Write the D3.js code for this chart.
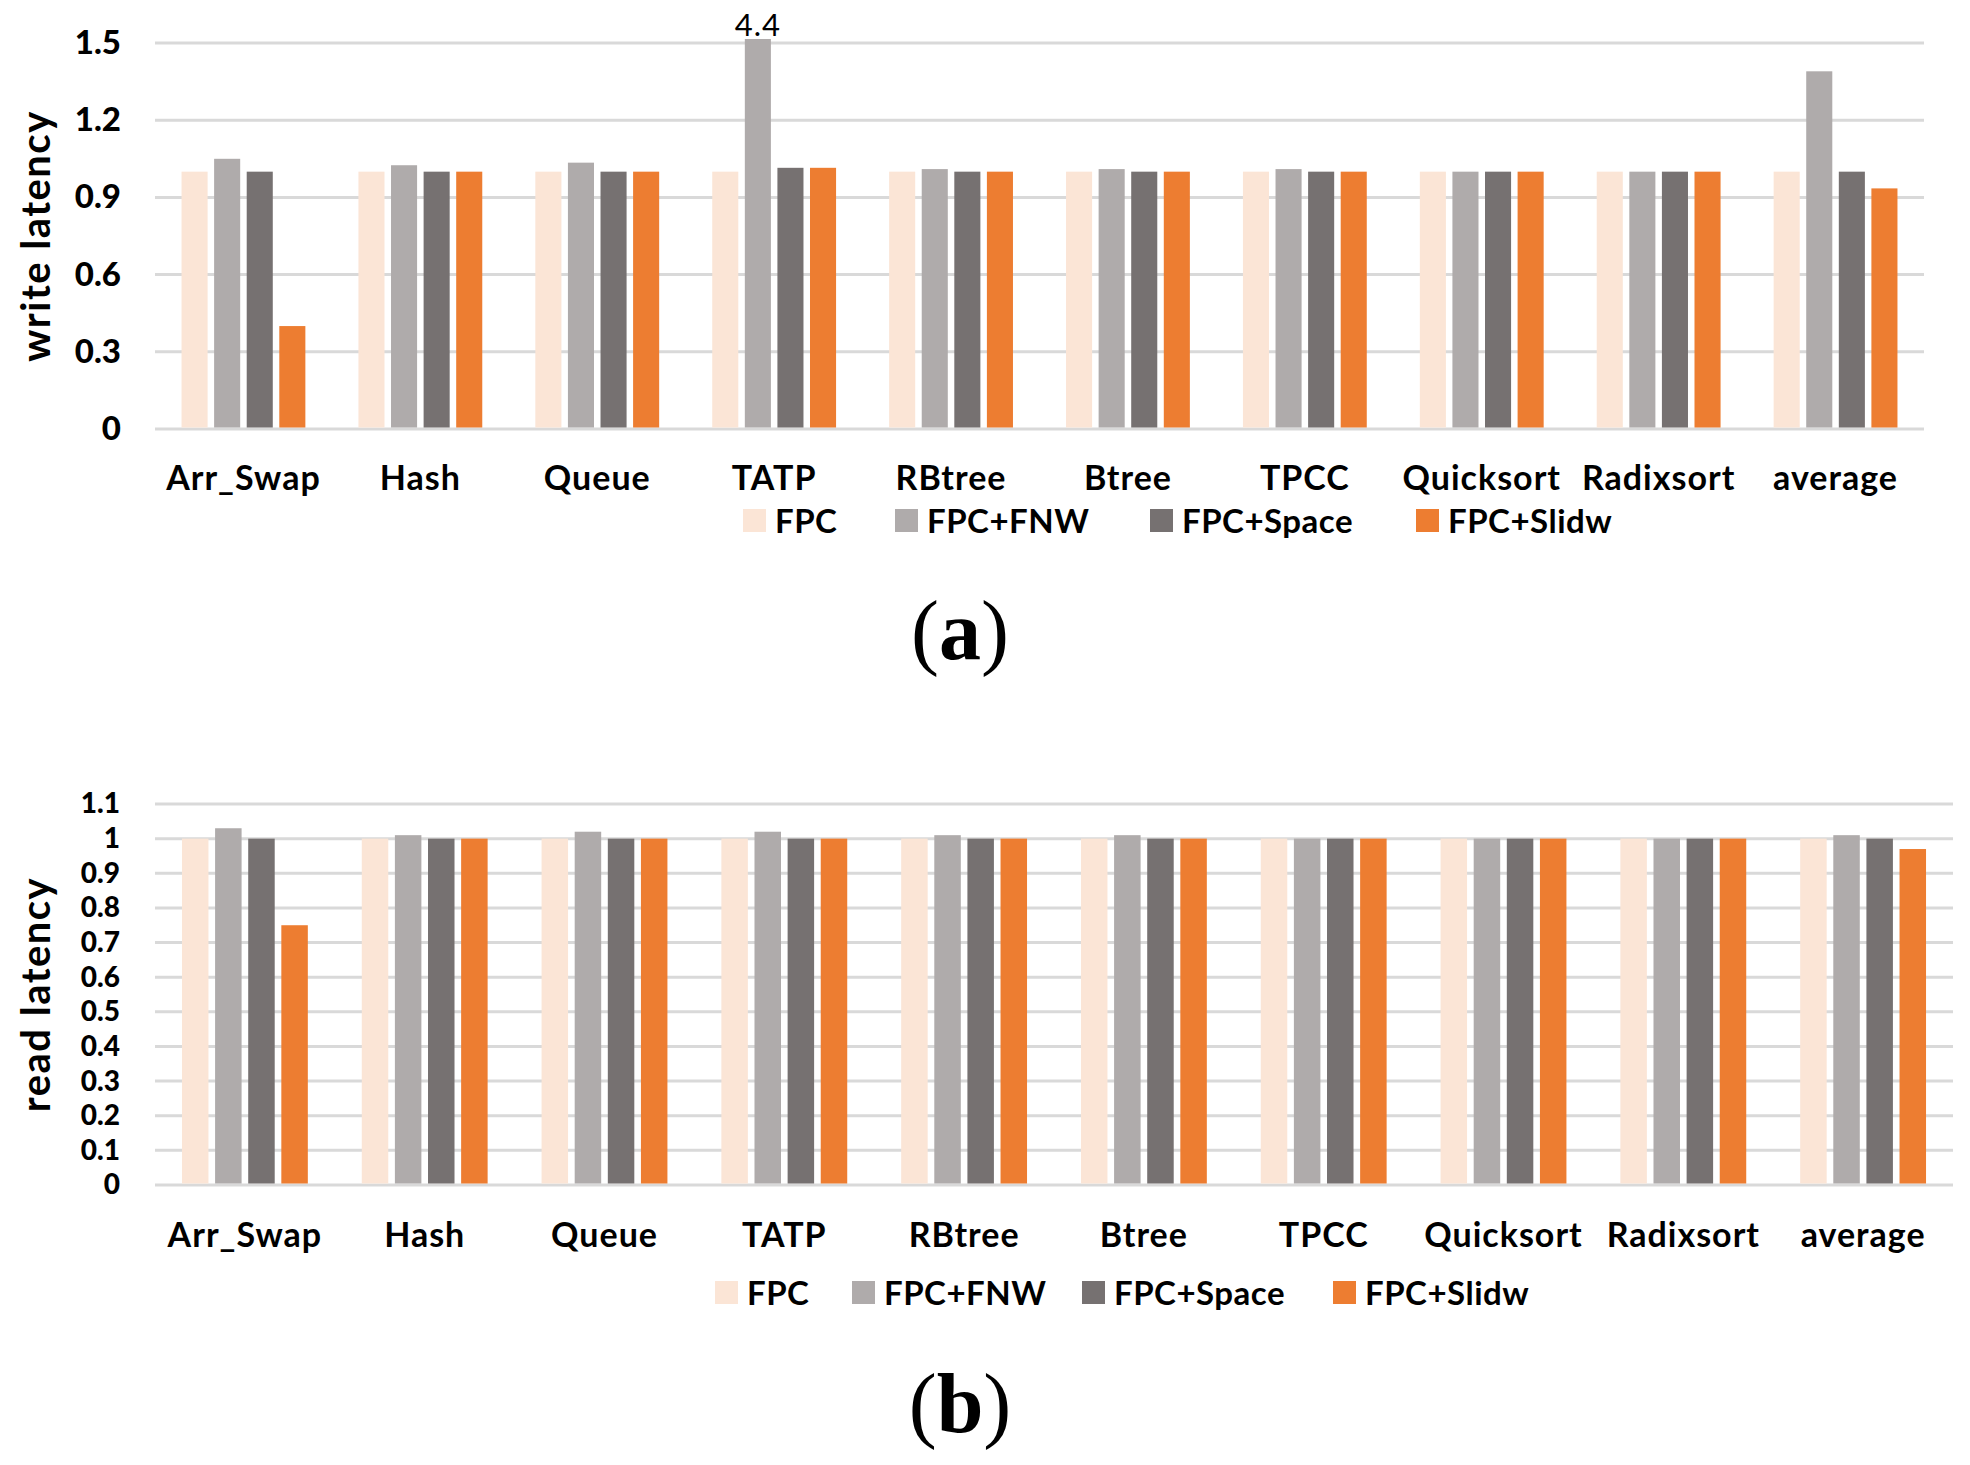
<!DOCTYPE html>
<html>
<head>
<meta charset="utf-8">
<script src="https://cdn.jsdelivr.net/npm/d3@7"></script>
<style>
  body { margin: 0; background: #fff; }
  svg text { font-family: Lato, "Open Sans", sans-serif; }
</style>
</head>
<body>
<div id="chart"></div>
<script>
// Categories and series
var categories = ["Arr_Swap", "Hash", "Queue", "TATP", "RBtree", "Btree", "TPCC", "Quicksort", "Radixsort", "average"];
var seriesNames = ["FPC", "FPC+FNW", "FPC+Space", "FPC+Slidw"];
var seriesColors = ["#FBE5D6", "#AFABAB", "#767171", "#ED7D31"];

// (a) write latency
var writeFPC   = [1.0, 1.0, 1.0, 1.0, 1.0, 1.0, 1.0, 1.0, 1.0, 1.0];
var writeFNW   = [1.05, 1.025, 1.035, 4.4, 1.01, 1.01, 1.01, 1.0, 1.0, 1.39];
var writeSpace = [1.0, 1.0, 1.0, 1.015, 1.0, 1.0, 1.0, 1.0, 1.0, 1.0];
var writeSlidw = [0.40, 1.0, 1.0, 1.015, 1.0, 1.0, 1.0, 1.0, 1.0, 0.935];
var writeTicks = [0, 0.3, 0.6, 0.9, 1.2, 1.5];

// (b) read latency
var readFPC   = [1.0, 1.0, 1.0, 1.0, 1.0, 1.0, 1.0, 1.0, 1.0, 1.0];
var readFNW   = [1.03, 1.01, 1.02, 1.02, 1.01, 1.01, 1.0, 1.0, 1.0, 1.01];
var readSpace = [1.0, 1.0, 1.0, 1.0, 1.0, 1.0, 1.0, 1.0, 1.0, 1.0];
var readSlidw = [0.75, 1.0, 1.0, 1.0, 1.0, 1.0, 1.0, 1.0, 1.0, 0.97];
var readTicks = [0, 0.1, 0.2, 0.3, 0.4, 0.5, 0.6, 0.7, 0.8, 0.9, 1, 1.1];

var width = 1970, height = 1465;
var svg = d3.select("#chart").append("svg")
    .attr("width", width)
    .attr("height", height);

function drawPanel(opt) {
    var g = svg.append("g");
    var series = opt.values;
    var yMax = opt.ticks[opt.ticks.length - 1];

    var x = d3.scaleBand().domain(categories)
        .range([opt.left, opt.right])
        .paddingInner(0.3).paddingOuter(0.15);
    var xs = d3.scaleBand().domain(d3.range(series.length))
        .range([0, x.bandwidth()])
        .paddingInner(0.2);
    var y = d3.scaleLinear().domain([0, yMax]).range([opt.bottom, opt.top]);

    // gridlines
    g.append("g").selectAll("line").data(opt.ticks).enter().append("line")
        .attr("x1", opt.left).attr("x2", opt.right)
        .attr("y1", function(d) { return y(d); })
        .attr("y2", function(d) { return y(d); })
        .attr("stroke", "#D9D9D9").attr("stroke-width", 3);

    // y axis labels
    var yAxis = d3.axisLeft(y).tickValues(opt.ticks).tickSize(0).tickPadding(0)
        .tickFormat(function(d) { return String(d); });
    var ya = g.append("g").attr("transform", "translate(" + opt.labelX + ",0)").call(yAxis);
    ya.select(".domain").remove();
    ya.selectAll("text")
        .style("font-size", opt.tickSize + "px")
        .style("font-weight", "900")
        .style("fill", "#000");

    // bars (clipped at top of plot area)
    var clipTop = y(yMax) - 4;
    series.forEach(function(vals, si) {
        g.append("g").selectAll("rect").data(vals).enter().append("rect")
            .attr("x", function(d, i) { return x(categories[i]) + xs(si); })
            .attr("width", xs.bandwidth())
            .attr("y", function(d) { return Math.max(y(d), clipTop); })
            .attr("height", function(d) { return opt.bottom - 1.5 - Math.max(y(d), clipTop); })
            .attr("fill", seriesColors[si]);
    });

    // over-range label
    series.forEach(function(vals, si) {
        vals.forEach(function(v, i) {
            if (v > yMax) {
                g.append("text")
                    .attr("x", x(categories[i]) + xs(si) + xs.bandwidth() / 2)
                    .attr("y", clipTop - 3)
                    .attr("text-anchor", "middle")
                    .style("font-size", "31px")
                    .style("letter-spacing", "1px")
                    .text(v.toFixed(1));
            }
        });
    });

    // category labels
    var xAxis = d3.axisBottom(x).tickSize(0).tickPadding(0);
    var xa = g.append("g").attr("transform", "translate(0," + opt.catY + ")").call(xAxis);
    xa.select(".domain").remove();
    xa.selectAll("text")
        .attr("dy", "0.35em")
        .style("font-size", opt.catSize + "px")
        .style("font-weight", "bold")
        .style("letter-spacing", "1px")
        .style("fill", "#000");

    // y title
    g.append("text")
        .attr("transform", "translate(" + opt.titleX + "," + ((opt.top + opt.bottom) / 2) + ") rotate(-90)")
        .attr("text-anchor", "middle")
        .attr("dy", "0.35em")
        .style("font-size", "40px")
        .style("font-weight", "bold")
        .style("letter-spacing", "1.5px")
        .text(opt.title);

    // legend
    var lg = g.append("g");
    seriesNames.forEach(function(name, i) {
        var lx = opt.legendX[i];
        lg.append("rect")
            .attr("x", lx).attr("y", opt.legendY - 12)
            .attr("width", 23).attr("height", 23)
            .attr("fill", seriesColors[i]);
        lg.append("text")
            .attr("x", lx + 32).attr("y", opt.legendY)
            .attr("dy", "0.35em")
            .style("font-size", "33px")
            .style("font-weight", "bold")
            .style("letter-spacing", "0.5px")
            .text(name);
    });

    // caption
    var cap = g.append("text")
        .attr("x", 960).attr("y", opt.captionY)
        .attr("text-anchor", "middle")
        .attr("dy", "0.35em")
        .style("font-family", "'Liberation Serif', 'DejaVu Serif', serif")
        .style("font-size", "84px");
    cap.append("tspan").text("(");
    cap.append("tspan").style("font-weight", "bold").text(opt.caption);
    cap.append("tspan").text(")");
}

drawPanel({
    values: [writeFPC, writeFNW, writeSpace, writeSlidw],
    ticks: writeTicks,
    left: 155, right: 1924, top: 43, bottom: 429,
    labelX: 121, tickSize: 33, catY: 478, catSize: 34,
    titleX: 36, title: "write latency",
    legendY: 521, legendX: [743, 895, 1150, 1416],
    captionY: 630, caption: "a"
});

drawPanel({
    values: [readFPC, readFNW, readSpace, readSlidw],
    ticks: readTicks,
    left: 155, right: 1953, top: 804, bottom: 1185,
    labelX: 120, tickSize: 28, catY: 1235, catSize: 34,
    titleX: 36, title: "read latency",
    legendY: 1293, legendX: [715, 852, 1082, 1333],
    captionY: 1403, caption: "b"
});
</script>
</body>
</html>
